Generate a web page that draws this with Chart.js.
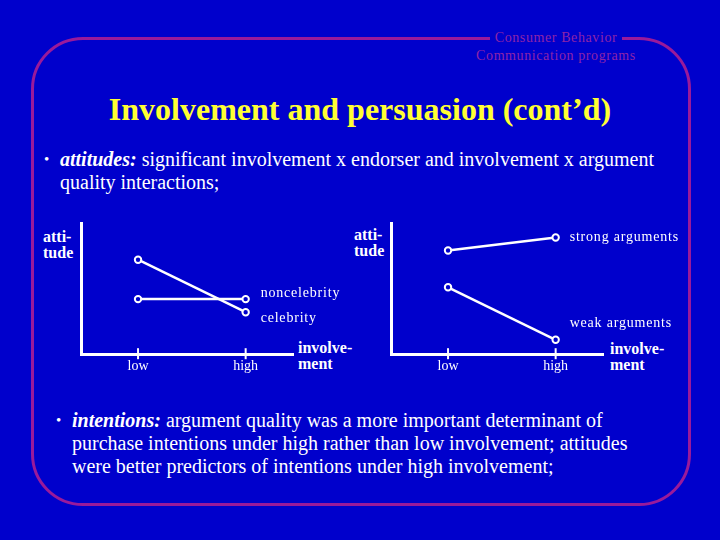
<!DOCTYPE html>
<html>
<head>
<meta charset="utf-8">
<script src="https://cdn.jsdelivr.net/npm/chart.js@4.4.1/dist/chart.umd.min.js"></script>
<style>
  html, body { margin: 0; padding: 0; }
  body { width: 720px; height: 540px; background: #0000cc; position: relative; overflow: hidden;
         font-family: "Liberation Serif", "DejaVu Serif", serif; color: #fff; }
  .frame { position: absolute; left: 31px; top: 37px; width: 654px; height: 463px;
           border: 3px solid #9a1a9a; border-radius: 52px; }
  .header { position: absolute; left: 440px; top: 29px; width: 232px; text-align: center; white-space: nowrap;
            font-size: 14px; line-height: 18px; color: #8e24a8; letter-spacing: 0.6px; }
  .header span { background: #0000cc; padding: 0 5px; }
  h1 { position: absolute; left: 0; width: 720px; top: 90px; margin: 0; text-align: center; white-space: nowrap;
       font-size: 32px; font-weight: bold; color: #ffff33; line-height: 38px; }
  .bullet { position: absolute; font-size: 20px; line-height: 23px; white-space: nowrap; }
  .bullet .dot { position: absolute; left: -16px; font-size: 15px; }
  .bullet b { font-style: italic; }
  .lbl { position: absolute; font-size: 16px; font-weight: bold; line-height: 15.5px; }
  canvas { position: absolute; }
</style>
</head>
<body>
<div class="frame"></div>
<div class="header"><span>Consumer Behavior</span><br>Communication programs</div>
<h1>Involvement and persuasion (cont’d)</h1>
<div class="bullet" style="left:60px; top:148px;"><span class="dot">•</span><b>attitudes:</b> significant involvement x endorser and involvement x argument<br>quality interactions;</div>

<div class="lbl" style="left:43px; top:229px;">atti-<br>tude</div>
<div class="lbl" style="left:298px; top:340px;">involve-<br>ment</div>
<div class="lbl" style="left:354px; top:227px;">atti-<br>tude</div>
<div class="lbl" style="left:610px; top:341px;">involve-<br>ment</div>

<canvas id="endorserChart" style="left:30px; top:205px;" width="320" height="180"></canvas>
<canvas id="argumentChart" style="left:340px; top:205px;" width="360" height="180"></canvas>

<div class="bullet" style="left:72px; top:409px;"><span class="dot">•</span><b>intentions:</b> argument quality was a more important determinant of<br>purchase intentions under high rather than low involvement; attitudes<br>were better predictors of intentions under high involvement;</div>

<script>
// involvement levels on the x axis
const involvementLabels = ['low', 'high'];
const involvementValues = [0, 1];

// attitude (arbitrary 0-10 scale) by endorser
const celebrity = [7.2, 3.2];
const noncelebrity = [4.2, 4.2];

// attitude by argument quality
const strongArguments = [7.9, 8.9];
const weakArguments = [5.1, 1.1];

function toPoints(values) {
    return values.map((v, i) => ({ x: involvementValues[i], y: v }));
}

// writes the series name next to its last point
const seriesLabels = {
    id: 'seriesLabels',
    afterDatasetsDraw(chart) {
        const ctx = chart.ctx;
        ctx.save();
        ctx.font = '14px "Liberation Serif", serif';
        ctx.letterSpacing = '0.8px';
        ctx.fillStyle = '#ffffff';
        ctx.textBaseline = 'middle';
        chart.data.datasets.forEach((ds, i) => {
            const meta = chart.getDatasetMeta(i);
            const last = meta.data[meta.data.length - 1];
            ctx.fillText(ds.label, last.x + ds.labelDx, last.y + ds.labelDy);
        });
        ctx.restore();
    }
};

// small tick marks crossing the x axis
const crossTicks = {
    id: 'crossTicks',
    afterDraw(chart) {
        const ctx = chart.ctx;
        const xs = chart.scales.x;
        const y0 = chart.chartArea.bottom;
        ctx.save();
        ctx.strokeStyle = '#ffffff';
        ctx.lineWidth = 2;
        involvementValues.forEach(v => {
            const px = xs.getPixelForValue(v);
            ctx.beginPath();
            ctx.moveTo(px, y0 - 6);
            ctx.lineTo(px, y0 + 5);
            ctx.stroke();
        });
        ctx.restore();
    }
};

function makeDataset(label, values, dx, dy) {
    return {
        label: label,
        data: toPoints(values),
        borderColor: '#ffffff',
        borderWidth: 2.5,
        pointRadius: 3.2,
        pointBorderWidth: 2,
        pointBackgroundColor: '#0000cc',
        pointBorderColor: '#ffffff',
        labelDx: dx,
        labelDy: dy
    };
}

function createInteractionChart(canvasId, datasets, rightPad) {
    const ctx = document.getElementById(canvasId).getContext('2d');
    return new Chart(ctx, {
        type: 'line',
        data: { datasets: datasets },
        plugins: [seriesLabels, crossTicks],
        options: {
            responsive: false,
            animation: false,
            layout: { padding: { left: 51, right: rightPad, top: 18, bottom: 6 } },
            plugins: {
                legend: { display: false },
                tooltip: { enabled: false }
            },
            scales: {
                x: {
                    type: 'linear',
                    min: -0.53,
                    max: 1.44,
                    afterBuildTicks: axis => { axis.ticks = involvementValues.map(v => ({ value: v })); },
                    ticks: {
                        color: '#ffffff',
                        padding: 4,
                        font: { family: '"Liberation Serif", serif', size: 14 },
                        callback: v => involvementLabels[involvementValues.indexOf(v)] || ''
                    },
                    grid: { display: false, drawTicks: false, tickLength: 6 },
                    border: { display: true, color: '#ffffff', width: 3 }
                },
                y: {
                    min: 0,
                    max: 10,
                    ticks: { display: false },
                    grid: { display: false, drawTicks: false },
                    border: { display: true, color: '#ffffff', width: 3 }
                }
            }
        }
    });
}

createInteractionChart('endorserChart', [
    makeDataset('celebrity', celebrity, 15, 6),
    makeDataset('noncelebrity', noncelebrity, 15, -6)
], 57);

createInteractionChart('argumentChart', [
    makeDataset('strong arguments', strongArguments, 14, 0),
    makeDataset('weak arguments', weakArguments, 14, -16)
], 97);
</script>
</body>
</html>
